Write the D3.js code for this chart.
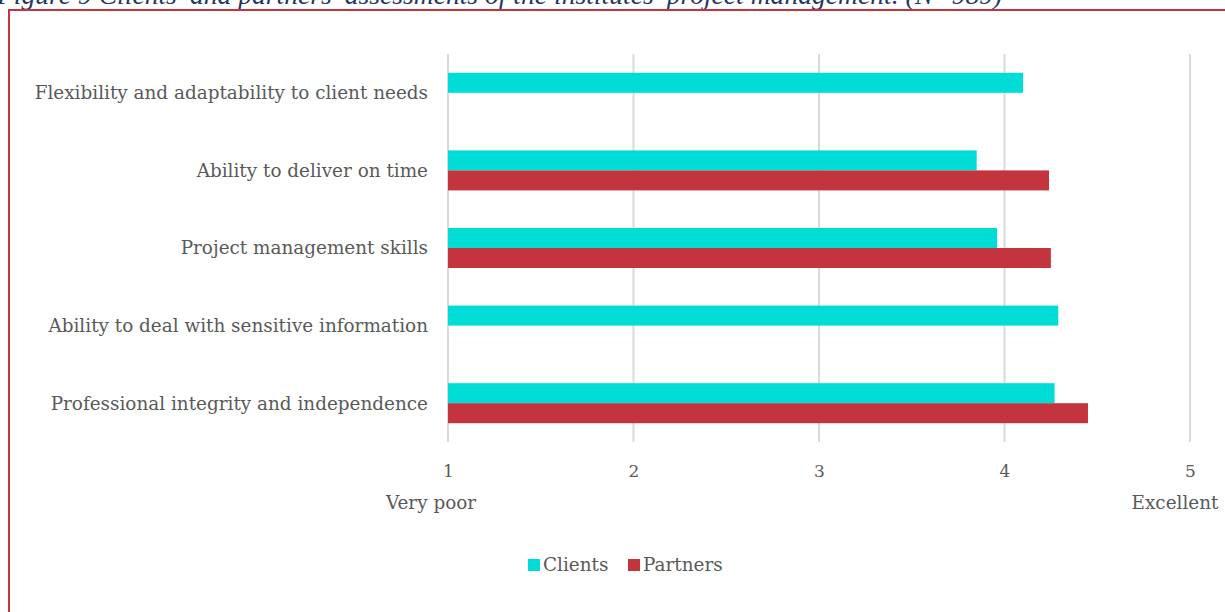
<!DOCTYPE html>
<html>
<head>
<meta charset="utf-8">
<script src="https://cdn.jsdelivr.net/npm/d3@7"></script>
<style>
  html, body { margin: 0; padding: 0; background: #fff; }
  svg { display: block; }
  text { font-family: "DejaVu Serif", "Liberation Serif", serif; fill: #595959; }
</style>
</head>
<body>
<svg id="chart" width="1225" height="612"></svg>
<script>
// Assessment items, listed top to bottom
const categories = [
  "Flexibility and adaptability to client needs",
  "Ability to deliver on time",
  "Project management skills",
  "Ability to deal with sensitive information",
  "Professional integrity and independence"
];
const seriesNames = ["Clients", "Partners"];
const clients  = [4.10, 3.85, 3.96, 4.29, 4.27];
const partners = [null, 4.24, 4.25, null, 4.45];
const tickValues = [1, 2, 3, 4, 5];
const scaleEnds = ["Very poor", "Excellent"];
const titleText = "Figure 9 Clients\u2019 and partners\u2019 assessments of the institutes\u2019 project management. (N=989)";

const colors = { Clients: "#00DCD6", Partners: "#C4343F" };

const svg = d3.select("#chart");

// Heading, running off the top edge
svg.append("text")
  .attr("x", -3).attr("y", 4)
  .style("font-family", "'Liberation Serif', serif")
  .style("font-style", "italic")
  .style("font-size", "27.6px")
  .style("fill", "#1F3864")
  .text(titleText);

// Frame
svg.append("rect")
  .attr("x", 9).attr("y", 10)
  .attr("width", 1240).attr("height", 640)
  .attr("fill", "none")
  .attr("stroke", "#C4343F")
  .attr("stroke-width", 2);

const plot = { left: 448, right: 1190, top: 54, bottom: 442 };

const x = d3.scaleLinear().domain([1, 5]).range([plot.left, plot.right]);
const y = d3.scaleBand().domain(categories).range([plot.top, plot.bottom]).paddingInner(0).paddingOuter(0);
const sub = d3.scaleBand().domain(seriesNames).range([0, y.bandwidth()]).paddingInner(0).paddingOuter(0.94);

// Vertical grid lines
svg.append("g")
  .selectAll("line")
  .data(tickValues)
  .join("line")
  .attr("x1", d => x(d)).attr("x2", d => x(d))
  .attr("y1", plot.top).attr("y2", plot.bottom)
  .attr("stroke", "#D9D9D9")
  .attr("stroke-width", 2);

// Bars
const rows = categories.map((c, i) => ({ c, vals: [
  { s: "Clients", v: clients[i] },
  { s: "Partners", v: partners[i] }
]}));

const groups = svg.append("g").selectAll("g")
  .data(rows)
  .join("g")
  .attr("transform", d => `translate(0,${y(d.c)})`);

groups.selectAll("rect")
  .data(d => d.vals.filter(v => v.v != null))
  .join("rect")
  .attr("x", x(1))
  .attr("y", d => sub(d.s))
  .attr("width", d => x(d.v) - x(1))
  .attr("height", sub.bandwidth())
  .attr("fill", d => colors[d.s]);

// Category labels
svg.append("g").selectAll("text")
  .data(categories)
  .join("text")
  .attr("x", plot.left - 20)
  .attr("y", d => y(d) + y.bandwidth() / 2)
  .attr("dy", "0.35em")
  .attr("text-anchor", "end")
  .style("font-size", "18.4px")
  .text(d => d);

// Axis tick labels
const axis = svg.append("g")
  .attr("transform", `translate(0,${plot.bottom})`)
  .call(d3.axisBottom(x).tickValues(tickValues).tickFormat(d3.format("d")).tickSize(0).tickPadding(23));
axis.select(".domain").remove();
axis.selectAll("text")
  .style("font-family", "'DejaVu Serif', serif")
  .style("font-size", "17px")
  .style("fill", "#595959");

// Scale end labels
svg.append("g").selectAll("text")
  .data(scaleEnds)
  .join("text")
  .attr("x", (d, i) => x(i === 0 ? 1 : 5) + (i === 0 ? -17 : -15))
  .attr("y", 509)
  .attr("text-anchor", "middle")
  .style("font-size", "18.4px")
  .text(d => d);

// Legend
const legend = svg.append("g").attr("transform", "translate(528,565)");
const legendOffsets = [0, 100];
seriesNames.forEach((s, i) => {
  const g = legend.append("g").attr("transform", `translate(${legendOffsets[i]},0)`);
  g.append("rect").attr("x", 0).attr("y", -6).attr("width", 12).attr("height", 12).attr("fill", colors[s]);
  g.append("text").attr("x", 15).attr("y", 0).attr("dy", "0.35em").style("font-size", "18.4px").text(s);
});
</script>
</body>
</html>
